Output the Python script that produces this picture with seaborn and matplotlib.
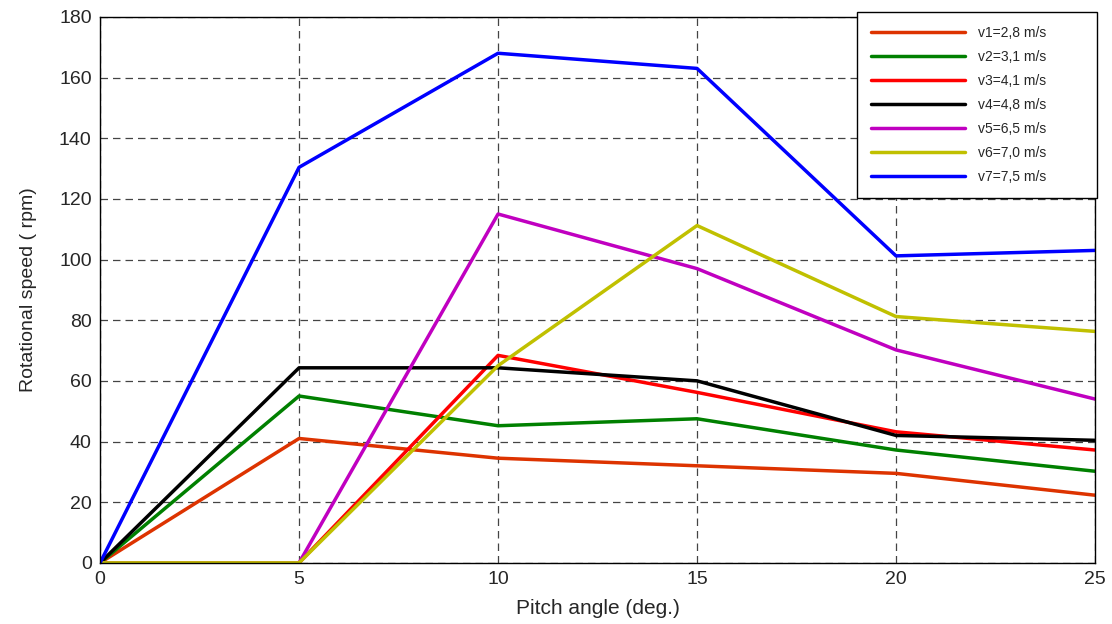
import pandas as pd
import matplotlib
matplotlib.use('Agg')
import matplotlib.pyplot as plt
import seaborn as sns

pitch = [0, 5, 10, 15, 20, 25]
labels = ['v1=2,8 m/s', 'v2=3,1 m/s', 'v3=4,1 m/s', 'v4=4,8 m/s',
          'v5=6,5 m/s', 'v6=7,0 m/s', 'v7=7,5 m/s']
v1 = [0, 41, 34.5, 32, 29.5, 22.3]
v2 = [0, 55, 45.2, 47.5, 37.2, 30.2]
v3 = [0, 0, 68.4, 56.2, 43.2, 37.2]
v4 = [0, 64.3, 64.3, 60, 42, 40.4]
v5 = [0, 0, 115, 97, 70.2, 54]
v6 = [0, 0, 65, 111.2, 81.2, 76.3]
v7 = [0, 130.4, 168, 163, 101.2, 103]
colors = ['#dd3300', '#008000', '#ff0000', '#000000', '#c000c0', '#c0c000', '#0000ff']

series = [v1, v2, v3, v4, v5, v6, v7]
rows = []
for lab, vals in zip(labels, series):
    for p, v in zip(pitch, vals):
        rows.append({'pitch': p, 'speed': v, 'case': lab})
df = pd.DataFrame(rows)

sns.set_style('white')
plt.rcParams['font.family'] = ['Liberation Sans', 'DejaVu Sans']

fig = plt.figure(figsize=(11.12, 6.24), dpi=100)
ax = fig.add_axes([0.09, 0.098, 0.8947, 0.875])
sns.lineplot(data=df, x='pitch', y='speed', hue='case', palette=colors,
             linewidth=2.5, ax=ax, sort=False)

ax.set_xlim(0, 25)
ax.set_ylim(0, 180)
ax.set_xticks(pitch)
ax.set_yticks(range(0, 181, 20))
ax.tick_params(direction='in', labelsize=14, length=5, color='black', pad=6)
ax.grid(True, linestyle=(0, (6, 4)), color='#444444', linewidth=0.9)
for s in ax.spines.values():
    s.set_color('black')
    s.set_linewidth(1)
ax.set_xlabel('Pitch angle (deg.)', fontsize=15, labelpad=8)
ax.set_ylabel('Rotational speed ( rpm)', fontsize=14, labelpad=16)

# legend box spans a fixed width, entries left aligned
leg = ax.legend(loc='upper left', bbox_to_anchor=(0.7608, 0.6777, 0.2412, 0.3315),
                mode='expand', fontsize=10,
                frameon=True, fancybox=False, edgecolor='black',
                handlelength=6.8, labelspacing=0.72, borderpad=1.0,
                handletextpad=0.9, borderaxespad=0, framealpha=1)
leg.get_frame().set_linewidth(1)

fig.savefig('out.png', dpi=100)
